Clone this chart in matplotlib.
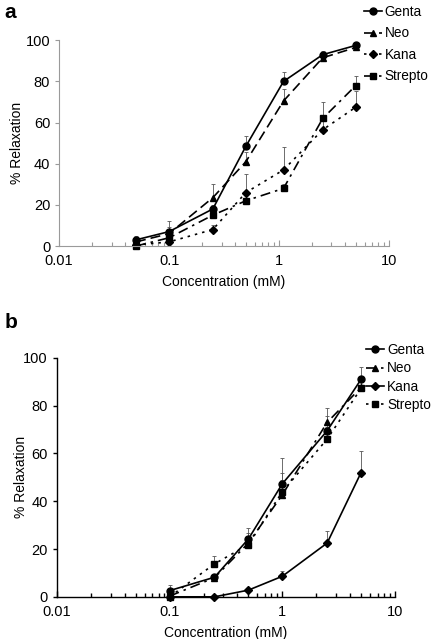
import matplotlib
matplotlib.use("Agg")
import matplotlib.pyplot as plt
from matplotlib.lines import Line2D
from matplotlib.ticker import LogLocator, FixedLocator, NullFormatter, FixedFormatter

# ---------------- data ----------------
labels = ["Genta", "Neo", "Kana", "Strepto"]

# Panel a
xa = [0.05, 0.1, 0.25, 0.5, 1.1, 2.5, 5]
a_genta = [3, 7, 18, 48.5, 80, 93, 97.5]
a_neo = [2, 6, 23.5, 41, 70.5, 91.5, 96.5]
a_kana = [0.5, 2, 8, 26, 37, 56.5, 67.5]
a_strepto = [0, 4, 15, 22, 28, 62, 78]
a_genta_err = [2, 5, 0, 5, 4.5, 2, 1]
a_neo_err = [1, 3, 6.5, 4.5, 6, 1.5, 1]
a_kana_err = [1, 2, 2, 9, 11, 7, 8]
a_strepto_err = [1, 2, 5, 1, 2, 8, 4.5]

# Panel b
xb = [0.1, 0.25, 0.5, 1, 2.5, 5]
b_genta = [2.6, 8.2, 24.2, 47.3, 69.5, 91]
b_neo = [0.3, 8, 22.5, 42.7, 73, 87.6]
b_kana = [0, 0, 2.8, 8.6, 22.5, 52]
b_strepto = [0, 13.8, 21.8, 44, 66, 87.2]
b_genta_err = [2.4, 1, 4.8, 10.7, 6, 5]
b_neo_err = [1, 1, 4, 9, 6, 3]
b_kana_err = [0, 0, 0.5, 2, 5.2, 9]
b_strepto_err = [0.5, 3.2, 3, 5, 5, 3]

yticks = [0, 20, 40, 60, 80, 100]
xticks = [0.01, 0.1, 1, 10]
xticklabels = ["0.01", "0.1", "1", "10"]

plt.rcParams['font.family'] = ['Liberation Sans', 'DejaVu Sans']

fig = plt.figure(figsize=(4.35, 6.39), dpi=100)
axa = fig.add_axes([0.136, 0.615, 0.758, 0.322])
axb = fig.add_axes([0.131, 0.066, 0.777, 0.374])


def draw(ax, x, series, errs, styles, markers, msizes, spine_color, lw, ylab_x):
    handles = []
    for y, e, ls, m, ms, lab in zip(series, errs, styles, markers, msizes, labels):
        ax.errorbar(x, y, yerr=[[0] * len(e), e], color='black', ls=ls, lw=1.2,
                    marker=m, ms=ms, elinewidth=0.6, ecolor='#555555',
                    capsize=1.5, capthick=0.6, clip_on=False)
        handles.append(Line2D([], [], color='black', ls=ls, lw=1.2, marker=m, ms=ms, label=lab))
    ax.set_xscale('log')
    ax.set_xlim(0.01, 10)
    ax.set_ylim(0, 100)
    ax.xaxis.set_major_locator(FixedLocator(xticks))
    ax.xaxis.set_major_formatter(FixedFormatter(xticklabels))
    ax.xaxis.set_minor_locator(LogLocator(base=10, subs=range(2, 10)))
    ax.xaxis.set_minor_formatter(NullFormatter())
    ax.set_yticks(yticks)
    for s in ['top', 'right']:
        ax.spines[s].set_visible(False)
    for s in ['left', 'bottom']:
        ax.spines[s].set_color(spine_color)
        ax.spines[s].set_linewidth(lw)
    ax.tick_params(axis='x', which='major', direction='in', length=4, color=spine_color,
                   width=lw, labelsize=10.5, pad=6)
    ax.tick_params(axis='x', which='minor', direction='in', length=3, color=spine_color, width=lw)
    ax.tick_params(axis='y', direction='out', length=3, color=spine_color, width=lw,
                   labelsize=10.5)
    ax.set_xlabel("Concentration (mM)", fontsize=10, labelpad=5)
    ax.set_ylabel("% Relaxation", fontsize=10)
    ax.yaxis.set_label_coords(ylab_x, 0.5)
    return handles


ha = draw(axa, xa, [a_genta, a_neo, a_kana, a_strepto],
          [a_genta_err, a_neo_err, a_kana_err, a_strepto_err],
          ['-', (0, (6, 3)), (0, (1.5, 3)), (0, (6, 3, 1.5, 3))],
          ['o', '^', 'D', 's'], [5, 5, 4, 5], '#9a9a9a', 0.8, -0.106)
hb = draw(axb, xb, [b_genta, b_neo, b_kana, b_strepto],
          [b_genta_err, b_neo_err, b_kana_err, b_strepto_err],
          ['-', (0, (6, 3, 1.5, 3)), '-', (0, (1.5, 3))],
          ['o', '^', 'D', 's'], [5, 5, 4, 5], 'black', 1.0, -0.086)

fig.legend(handles=ha, loc='upper left', bbox_to_anchor=(364 / 435, 1 - 5 / 639),
           frameon=False, fontsize=9.8, handlelength=1.3, handletextpad=0.2,
           labelspacing=0.55, borderaxespad=0, borderpad=0)
fig.legend(handles=hb, loc='upper left', bbox_to_anchor=(366 / 435, 1 - 343 / 639),
           frameon=False, fontsize=9.8, handlelength=1.35, handletextpad=0.2,
           labelspacing=0.32, borderaxespad=0, borderpad=0)

fig.text(0.01, 0.995, "a", fontsize=15, fontweight='bold', va='top')
fig.text(0.01, 0.51, "b", fontsize=15, fontweight='bold', va='top')

fig.savefig("out.png", dpi=100)
